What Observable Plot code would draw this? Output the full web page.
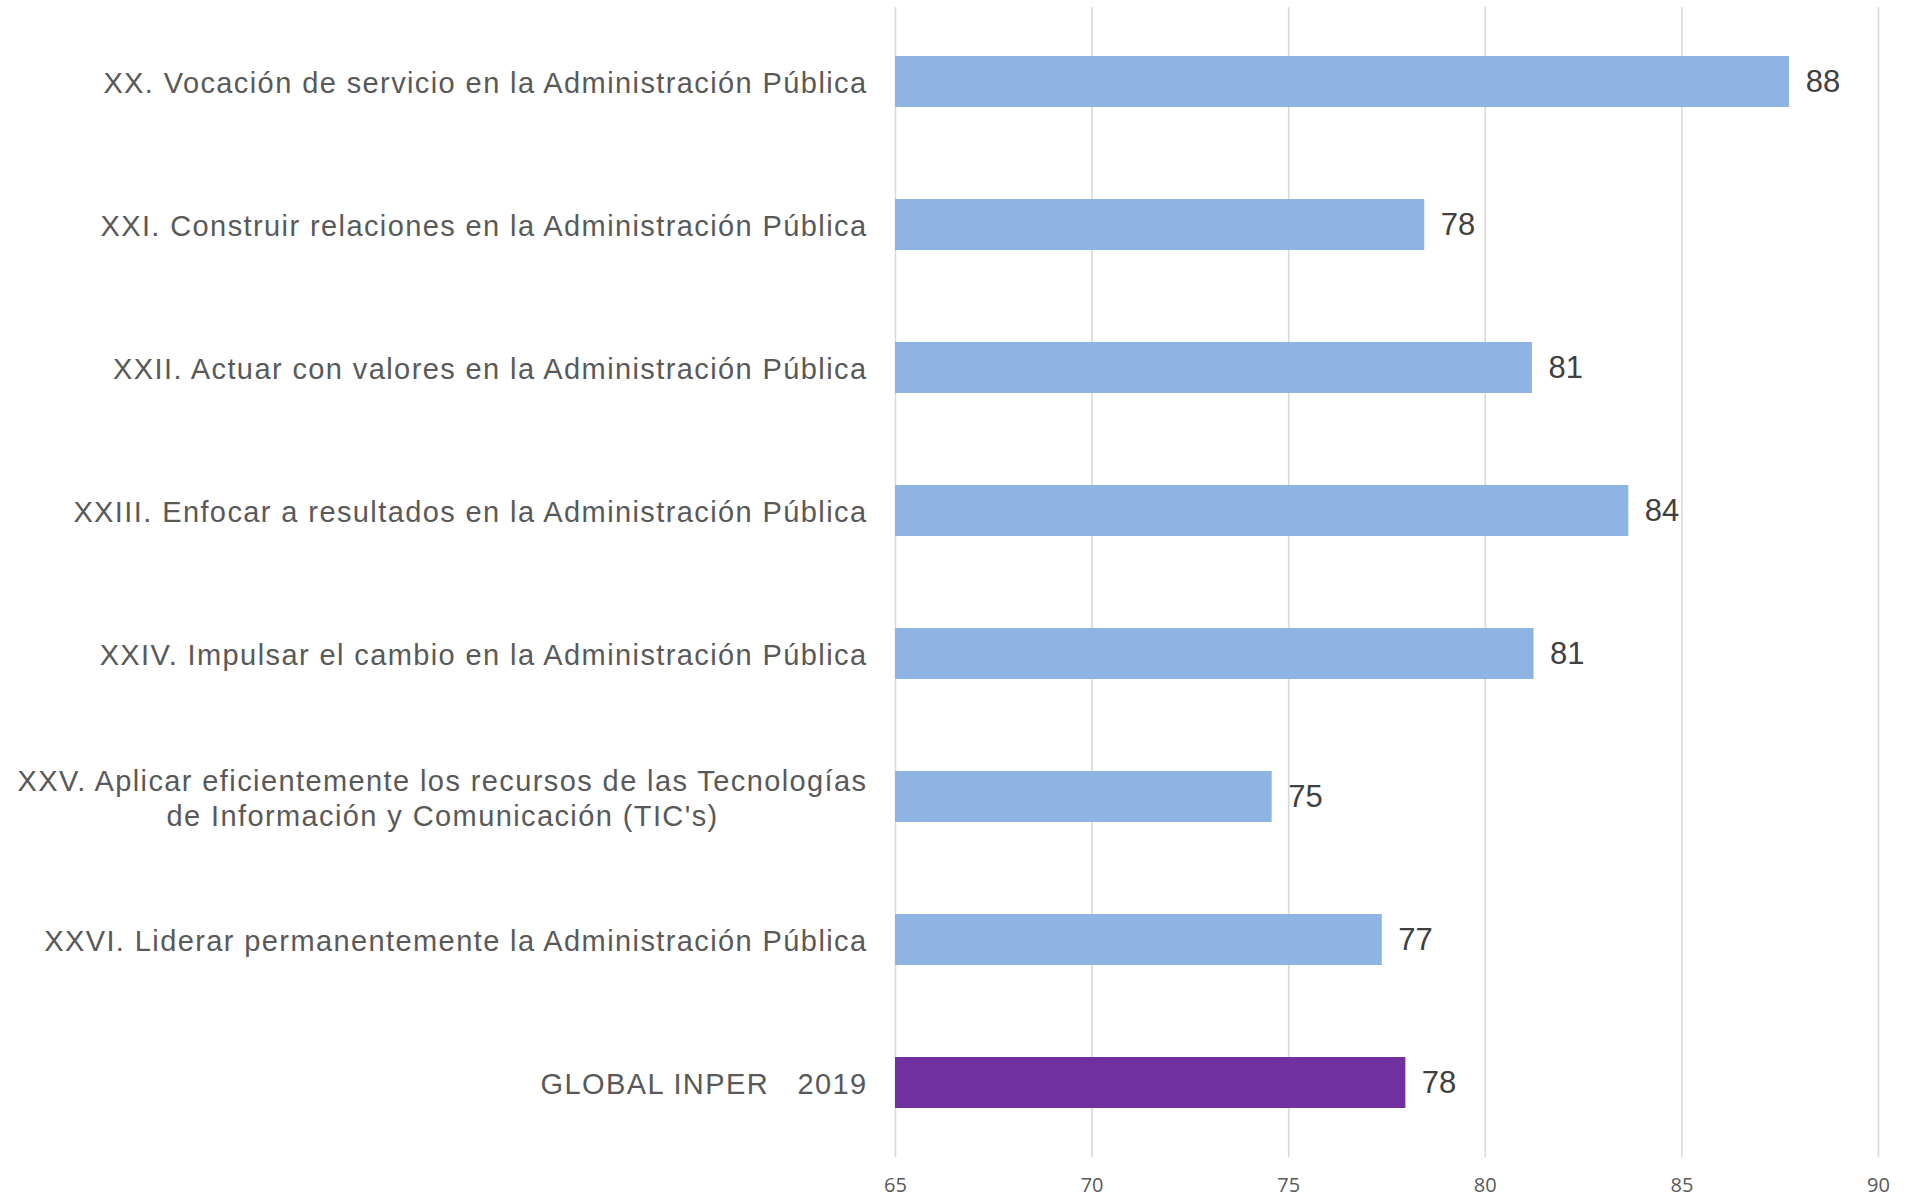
<!DOCTYPE html>
<html>
<head>
<meta charset="utf-8">
<script src="https://cdn.jsdelivr.net/npm/d3@7"></script>
<script src="https://cdn.jsdelivr.net/npm/@observablehq/plot@0.6"></script>
<style>
  html, body { margin: 0; padding: 0; background: #fff; }
  svg text { white-space: pre; }
</style>
</head>
<body>
<div id="chart"></div>
<script>
// ---- data ----
const categories = [
  "XX. Vocación de servicio en la Administración Pública",
  "XXI. Construir relaciones en la Administración Pública",
  "XXII. Actuar con valores en la Administración Pública",
  "XXIII. Enfocar a resultados en la Administración Pública",
  "XXIV. Impulsar el cambio en la Administración Pública",
  "XXV. Aplicar eficientemente los recursos de las Tecnologías\nde Información y Comunicación (TIC's)",
  "XXVI. Liderar permanentemente la Administración Pública",
  "GLOBAL INPER   2019"
];
const values = [87.74, 78.46, 81.2, 83.65, 81.24, 74.58, 77.38, 77.98];
const valueLabels = ["88", "78", "81", "84", "81", "75", "77", "78"];
const groups = ["factor", "factor", "factor", "factor", "factor", "factor", "factor", "global"];
const xTicks = [65, 70, 75, 80, 85, 90];
const xDomain = [65, 90];
const baseline = 65;

const data = categories.map((c, i) => ({cat: c, value: values[i], label: valueLabels[i], group: groups[i]}));

const chart = Plot.plot({
  width: 1908,
  height: 1199,
  marginLeft: 895,
  marginRight: 30,
  marginTop: 7,
  marginBottom: 42,
  style: {fontFamily: "'Liberation Sans', Arial, sans-serif", background: "#fff"},
  x: {domain: xDomain, ticks: xTicks, label: null},
  y: {domain: categories, paddingInner: 0.645, paddingOuter: 0.3225, label: null},
  color: {domain: ["factor", "global"], range: ["#8EB4E3", "#7030A0"]},
  marks: [
    Plot.gridX(xTicks, {stroke: "#d9d9d9", strokeOpacity: 1, strokeWidth: 1.6}),
    Plot.barX(data, {x1: () => baseline, x2: "value", y: "cat", fill: "group"}),
    Plot.text(data, {x: "value", y: "cat", text: "label", dx: 16, textAnchor: "start",
      fontSize: 31, fill: "#404040"}),
    Plot.axisX(xTicks, {tickSize: 0, tickPadding: 20, fontSize: 20, fill: "#595959",
      fontFamily: "'Open Sans', sans-serif", label: null}),
    Plot.axisY({tickSize: 0, tickPadding: 28, fontSize: 29, fill: "#595959", lineHeight: 1.22, label: null})
  ]
});

document.getElementById("chart").appendChild(chart);

// category label spacing, and center multi-line labels within their right-aligned block
const yLabels = chart.querySelector('[aria-label="y-axis tick label"]');
if (yLabels) yLabels.style.letterSpacing = "1.4px";
chart.querySelectorAll("text").forEach(t => {
  const spans = t.querySelectorAll("tspan");
  if (spans.length > 1) {
    let w = 0;
    spans.forEach(s => { w = Math.max(w, s.getComputedTextLength()); });
    spans.forEach(s => s.setAttribute("x", -w / 2));
    t.setAttribute("text-anchor", "middle");
  }
});
</script>
</body>
</html>
